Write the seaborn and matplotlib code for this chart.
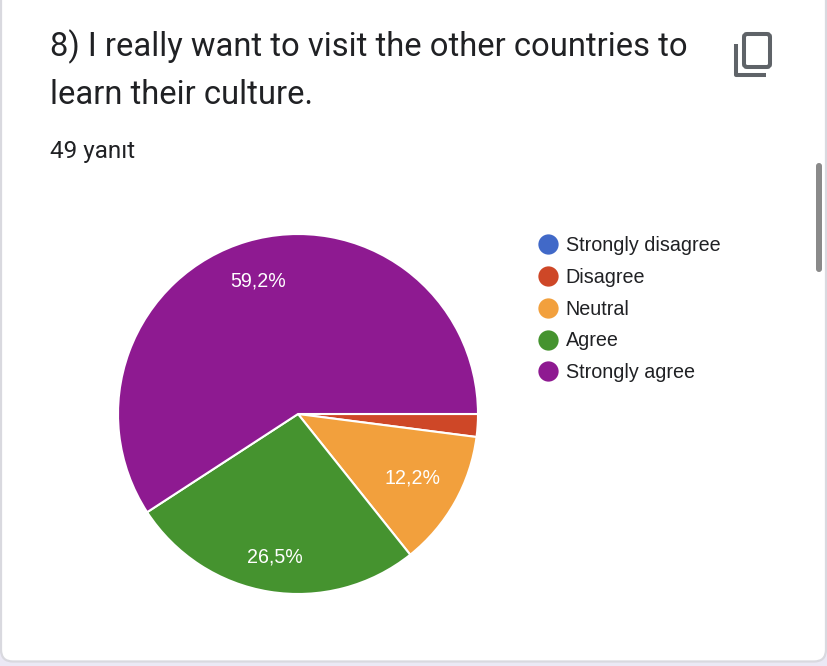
import matplotlib
matplotlib.use('Agg')
import matplotlib.pyplot as plt
from matplotlib.lines import Line2D
from matplotlib.patches import FancyBboxPatch
import seaborn as sns

# データ(回答数 / 49)
categories = ['Strongly disagree', 'Disagree', 'Neutral', 'Agree', 'Strongly agree']
counts = [0, 1, 6, 13, 29]
slice_colors = ['#4169c8', '#ce4727', '#f2a03d', '#45932f', '#8e1a91']
title_lines = ['8) I really want to visit the other countries to', 'learn their culture.']
subtitle = '49 yanıt'

W, H = 828, 666
TEXT = '#202124'
ICON = '#5f6368'

sns.set_theme(style='white')
palette = sns.color_palette(slice_colors)
plt.rcParams['font.family'] = ['Liberation Sans', 'DejaVu Sans']

fig = plt.figure(figsize=(W / 100, H / 100), dpi=100, facecolor='#ebe9f5')

# 背景(カード、スクロールバー、コピーアイコン)はピクセル座標で描く
bg = fig.add_axes([0, 0, 1, 1])
bg.set_xlim(0, W)
bg.set_ylim(H, 0)
bg.axis('off')
card = FancyBboxPatch((1, -40), 825, 701.5, boxstyle='round,pad=0,rounding_size=12',
                      facecolor='white', edgecolor='#d9d9df', linewidth=1.6)
bg.add_patch(card)
bar = FancyBboxPatch((816, 163), 6, 109, boxstyle='round,pad=0,rounding_size=3',
                     facecolor='#8a8a8a', edgecolor='none')
bg.add_patch(bar)
icon_front = FancyBboxPatch((744, 34), 26, 33, boxstyle='round,pad=0,rounding_size=3',
                            facecolor='none', edgecolor=ICON, linewidth=2.9)
bg.add_patch(icon_front)
bg.plot([736, 736, 766], [44, 74.5, 74.5], color=ICON, linewidth=2.9, solid_capstyle='butt',
        solid_joinstyle='round')

# タイトル
bg.text(50, 56, title_lines[0], fontsize=23.6, family='Roboto', color=TEXT, va='baseline')
bg.text(50, 104, title_lines[1], fontsize=23.6, family='Roboto', color=TEXT, va='baseline')
bg.text(50, 158, subtitle, fontsize=17.5, family='Roboto', color=TEXT, va='baseline')


def pct_label(p):
    # 小さいスライスにはラベルを付けない
    if p < 5:
        return ''
    return f'{p:.1f}%'.replace('.', ',')


# 円グラフ
ax = fig.add_axes([118 / W, 1 - 594 / H, 360 / W, 360 / H])
wedges, texts, autotexts = ax.pie(
    counts,
    colors=palette,
    startangle=0,
    counterclock=False,
    radius=1,
    autopct=pct_label,
    pctdistance=0.77,
    wedgeprops={'edgecolor': 'white', 'linewidth': 1.5},
    textprops={'color': 'white', 'fontsize': 14.1},
)
ax.set_xlim(-1, 1)
ax.set_ylim(-1, 1)

# Chartsのラベル位置に少し寄せる
radial_shift = [1, 1, 0.945, 1.045, 1]
for t, k in zip(autotexts, radial_shift):
    x, y = t.get_position()
    t.set_position((x * k, y * k))

# 凡例
handles = [Line2D([], [], linestyle='none', marker='o', markersize=14.6, color=c,
                  markeredgecolor='none') for c in palette]
fig.legend(
    handles, categories,
    loc='upper left',
    bbox_to_anchor=(538 / W, 1 - 236 / H),
    frameon=False,
    fontsize=14.2,
    labelcolor=TEXT,
    borderpad=0,
    borderaxespad=0,
    handlelength=1.03,
    handletextpad=0.38,
    labelspacing=0.65,
)

plt.savefig('out.png', dpi=100, facecolor=fig.get_facecolor())
